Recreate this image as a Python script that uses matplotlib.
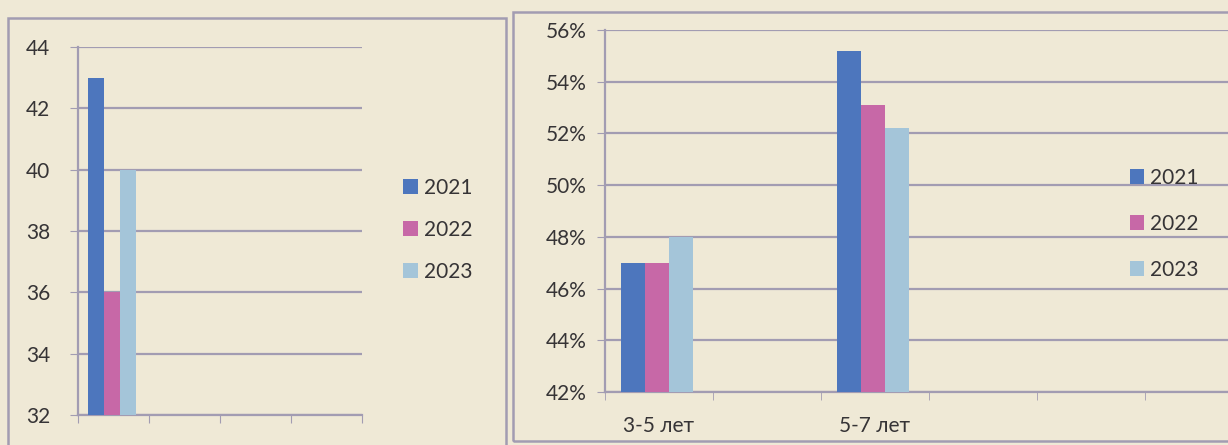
import numpy as np
import matplotlib.pyplot as plt
from matplotlib.patches import Rectangle

# данные
years = ["2021", "2022", "2023"]
colors = ["#4d76bd", "#c768a7", "#a4c5d9"]

left_cats = ["", "", "", ""]
left_vals = [[43], [36], [40]]          # только первая категория заполнена

right_cats = ["3-5 лет", "", "5-7 лет", "", "", ""]
right_vals = [[47, 55.2], [47, 53.1], [48, 52.2]]
right_pos = [0, 2]

paper = "#efe9d6"
grid_c = "#a29cb2"
text_c = "#363436"

plt.rcParams['font.family'] = ['Lato', 'DejaVu Sans']

fig = plt.figure(figsize=(12.28, 4.45), dpi=100)
fig.patch.set_facecolor(paper)

W, H = 1228.0, 445.0
def px(x0, y0, x1, y1):
    return [x0 / W, 1 - y1 / H, (x1 - x0) / W, (y1 - y0) / H]

# рамки
fig.patches.append(Rectangle((8 / W, 1 - 450 / H), (506 - 8) / W, (450 - 18) / H,
                             transform=fig.transFigure, fill=False, ec=grid_c, lw=1.8))
fig.patches.append(Rectangle((513 / W, 1 - 441 / H), (1240 - 513) / W, (441 - 12) / H,
                             transform=fig.transFigure, fill=False, ec=grid_c, lw=1.8))

# левая диаграмма
ax1 = fig.add_axes(px(78, 47, 362, 415))
ax1.set_facecolor("none")
bw = 0.224
for i, (yr, c) in enumerate(zip(years, colors)):
    ax1.bar([0 + (i - 1) * bw - 0.02], left_vals[i], width=bw, color=c, label=yr, zorder=3)
ax1.set_yticks(range(32, 45, 2))
ax1.set_xticks(np.arange(-0.5, len(left_cats), 1.0))
ax1.set_xticklabels([])
ax1.set_ylim(32, 44)
ax1.set_xlim(-0.5, len(left_cats) - 0.5)
ax1.grid(axis="y", color=grid_c, lw=1.6, zorder=0)
for s in ["top", "right"]:
    ax1.spines[s].set_visible(False)
for s in ["left", "bottom"]:
    ax1.spines[s].set_color(grid_c)
    ax1.spines[s].set_linewidth(1.6)
ax1.tick_params(axis="y", length=6, color=grid_c, labelsize=15, labelcolor=text_c, pad=14)
ax1.tick_params(axis="x", length=6, color=grid_c)
ax1.legend(loc="center left", bbox_to_anchor=(1.08, 0.503), frameon=False, fontsize=15,
           handlelength=0.7, handleheight=0.7, handletextpad=0.3, labelspacing=1.05,
           labelcolor=text_c)

# правая диаграмма
ax2 = fig.add_axes(px(605, 30, 1228, 392))
ax2.set_facecolor("none")
bw2 = 0.222
for i, (yr, c) in enumerate(zip(years, colors)):
    ax2.bar([p + (i - 1) * bw2 - 0.02 for p in right_pos], right_vals[i], width=bw2,
            color=c, label=yr, zorder=3)
ax2.set_yticks(range(42, 57, 2))
ax2.set_yticklabels([f"{v}%" for v in range(42, 57, 2)])
ax2.set_xticks(range(len(right_cats)))
ax2.set_xticklabels(right_cats)
ax2.set_xticks(np.arange(-0.5, 5.0, 1.0), minor=True)
ax2.set_ylim(42, 56)
ax2.set_xlim(-0.5, 5.27)
ax2.grid(axis="y", color=grid_c, lw=1.6, zorder=0)
for s in ["top", "right"]:
    ax2.spines[s].set_visible(False)
for s in ["left", "bottom"]:
    ax2.spines[s].set_color(grid_c)
    ax2.spines[s].set_linewidth(1.6)
ax2.tick_params(axis="y", length=6, color=grid_c, labelsize=15, labelcolor=text_c, pad=7)
ax2.tick_params(axis="x", which="major", length=0, labelsize=15, labelcolor=text_c, pad=17)
ax2.tick_params(axis="x", which="minor", length=6, color=grid_c)
ax2.legend(loc="center left", bbox_to_anchor=(0.812, 0.464), frameon=False, fontsize=15,
           handlelength=0.7, handleheight=0.7, handletextpad=0.3, labelspacing=1.25,
           labelcolor=text_c)

plt.savefig("out.png", dpi=100, facecolor=paper)
